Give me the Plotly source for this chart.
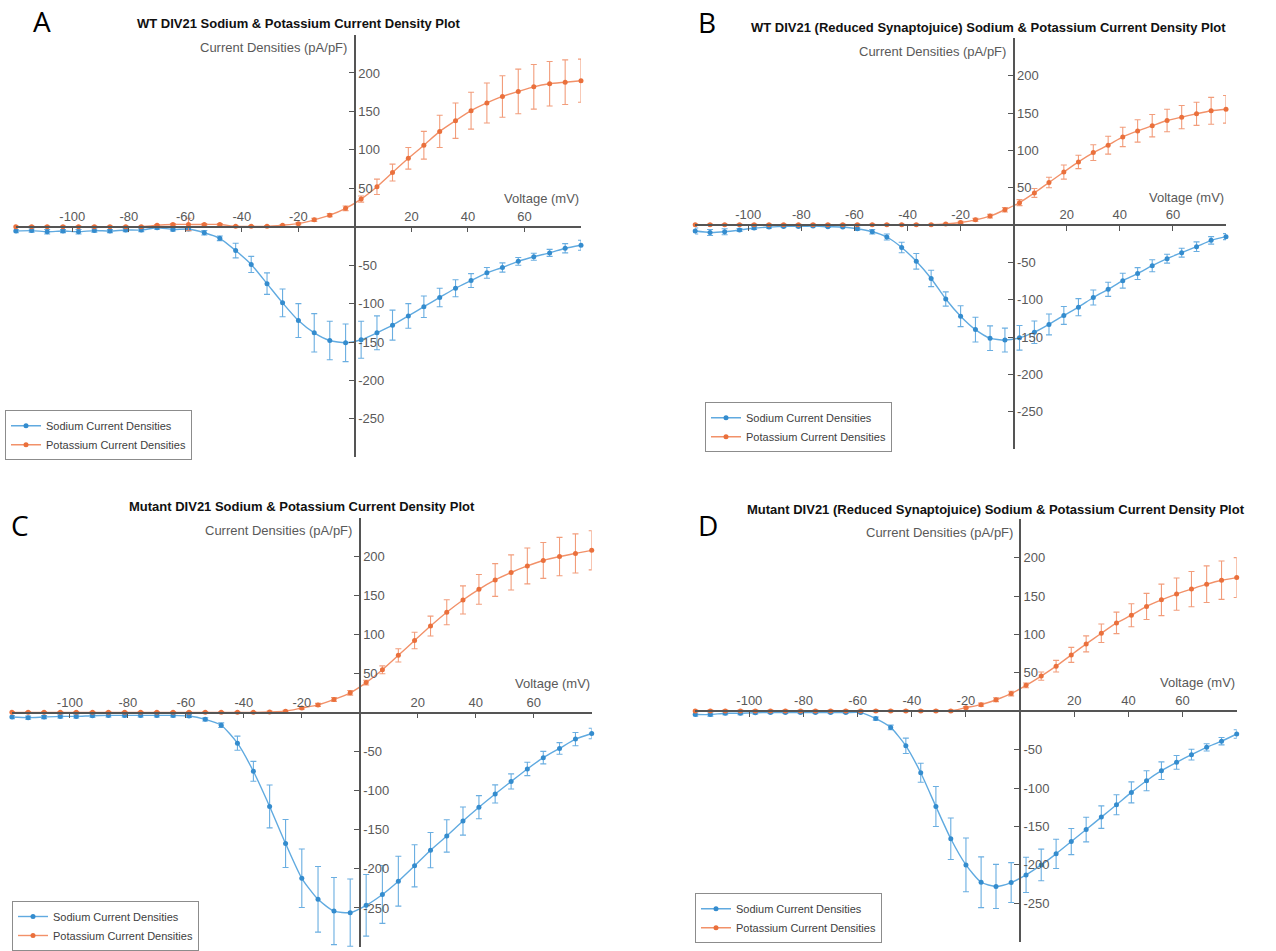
import plotly.graph_objects as go

# Membrane voltage steps (mV) shared by all four recordings
VOLTAGE = [-120.0, -114.4, -108.9, -103.3, -97.8, -92.2, -86.7, -81.1, -75.6, -70.0,
           -64.4, -58.9, -53.3, -47.8, -42.2, -36.7, -31.1, -25.6, -20.0, -14.4,
           -8.9, -3.3, 2.2, 7.8, 13.3, 18.9, 24.4, 30.0, 35.6, 41.1,
           46.7, 52.2, 57.8, 63.3, 68.9, 74.4, 80.0]

# A: WT DIV21
A_NA = [-5.6, -5.0, -6.5, -5.6, -6.5, -5.0, -5.6, -4.3, -4.3, -1.3, -3.5, -3.0, -7.8, -15, -31,
        -49, -74, -99, -122, -138, -148, -151, -147, -138, -128, -116, -104, -92, -80, -70,
        -60, -53, -45, -39, -34, -28, -24]
A_NA_ERR = [2, 2, 3, 2, 3, 2, 2, 2, 2, 2, 2, 2, 3, 3, 9.5, 10.5, 14, 18, 22, 25, 25, 24.5, 24,
            22, 19.5, 16, 14, 12, 11, 9, 7, 6, 5, 4.5, 4.5, 6, 6.5]
A_K = [0, 0, 0, 0, 0, 0, 0, 0, 0, 2, 3, 3, 3, 3, 0.5, 0.5, 0.5, 2, 4, 9, 15, 24, 36, 52, 70.5,
       89, 106, 124, 138, 151, 161, 169.5, 176, 182, 186, 188, 190]
A_K_ERR = [1, 1, 1, 1, 1, 1, 1, 1, 1, 1, 1, 8, 1, 1, 1, 1, 1, 1, 1.5, 2, 2, 3, 4, 10, 11, 14, 18,
           21, 23, 24, 26, 27, 29, 29, 29, 29, 28]

# B: WT DIV21 (Reduced Synaptojuice)
B_NA = [-8, -10, -9, -6.7, -4, -2.7, -1.8, -1.8, -1.3, -2.2, -2.7, -5, -9, -16, -30, -48.5,
        -71.5, -99, -122, -140, -151.5, -154, -151, -143.5, -133, -121, -110, -97, -86, -74.5,
        -65, -54.5, -45, -37, -29, -20.5, -15.5]
B_NA_ERR = [4, 4, 4, 2, 2, 1.5, 1, 1, 1, 1, 1, 2, 3, 4, 7, 10.5, 11, 9.5, 14, 16.5, 16.5, 16,
            16.5, 15, 14, 12, 11.5, 10, 9.5, 10, 8, 8, 6, 6, 6.5, 5, 4]
B_K = [0.5, 0.5, 0.5, 0.5, 0.5, 0.5, 0.5, 0.5, 0.5, 0.5, 0.5, 0.5, 0.5, 0.5, 0.5, 0.5, 0.5, 1.5,
       3.5, 7, 12, 20.5, 30, 43, 57, 71, 84.5, 97, 107, 118, 126, 133, 140, 144.5, 149, 153, 155]
B_K_ERR = [1, 1, 1, 1, 1, 1, 1, 1, 1, 1, 1, 1, 1, 1, 1, 1, 1, 1, 1.5, 2, 2.5, 3, 4, 6, 7, 9.5, 9,
           10.5, 12, 13, 15, 15, 15, 15.5, 15.5, 18, 18.5]

# C: Mutant DIV21
C_NA = [-5.5, -6.3, -5.5, -4.7, -4.7, -3.8, -3.4, -3.4, -3.4, -3.4, -3.4, -4.2, -8.5, -16, -39,
        -75, -120, -167.5, -212, -239, -254, -256, -246.6, -232.7, -215.7, -196, -176, -157.8,
        -138.7, -121, -104, -88, -72, -57.5, -45.7, -33.8, -26.6]
C_NA_ERR = [2, 2, 2, 2, 2, 2, 2, 2, 2, 2, 2, 2, 2, 3, 9, 12.7, 27.5, 30.7, 37.5, 42, 43, 43,
            39.5, 37, 32, 27, 22.6, 20.7, 18, 14.8, 11.6, 9.7, 8.5, 8, 7.4, 8.5, 6.8]
C_K = [0.5, 0.5, 0.5, 0.5, 0.5, 0.5, 0.5, 0.5, 0.5, 0.5, 0.5, 0.5, 0.5, 0.5, 0.5, 0.5, 1, 2, 6,
       10, 17, 25.5, 38.6, 55, 73.5, 92.5, 111, 128.7, 144.4, 158, 170, 179.6, 188, 195, 200,
       204, 208]
C_K_ERR = [1, 1, 1, 1, 1, 1, 1, 1, 1, 1, 1, 1, 1, 1, 1, 1, 1, 1, 1.5, 2, 2.5, 3, 3, 5, 8.5, 10.5,
           12.7, 16, 18, 19, 21, 22.5, 23, 23, 24.5, 25, 25]

# D: Mutant DIV21 (Reduced Synaptojuice)
D_NA = [-4.3, -4.3, -2.6, -2.6, -2, -1.7, -1.7, -1.7, -1.7, -1.7, -1.7, -1.7, -9.5, -21, -45,
        -80, -124, -166, -200, -222.6, -228, -223, -213, -200, -185.6, -169.6, -154, -137.8,
        -121.7, -105.6, -90.4, -77.4, -66.5, -56.5, -47, -39, -29.6]
D_NA_ERR = [2, 2, 2, 2, 1.5, 1, 1, 1, 1, 1, 1, 1, 2, 3, 10, 12.4, 26, 27, 35, 33, 28.7, 26, 23,
            20.6, 19, 17, 16, 14.6, 13, 13.7, 13, 11.5, 9, 7, 4.8, 4.8, 5.6]
D_K = [0.5, 0.5, 0.5, 0.5, 0.5, 0.5, 0.5, 0.5, 0.5, 0.5, 0.5, 0.5, 0.5, 0.5, 0.5, 0.5, 0.5, 0.5,
       4.7, 8.6, 15, 23, 33.7, 45.8, 58.7, 73.4, 87.7, 101.5, 115, 125, 136.5, 145, 152.5, 159,
       165.4, 170.6, 174]
D_K_ERR = [1, 1, 1, 1, 1, 1, 1, 1, 1, 1, 1, 1, 1, 1, 1, 1, 1, 1, 1.5, 2, 2.5, 3, 3, 5.4, 7.5,
           9.7, 10.4, 12, 14, 15, 17, 20.5, 21, 23, 23.8, 25, 26]

TITLES = [
    "WT DIV21 Sodium & Potassium Current Density Plot",
    "WT DIV21 (Reduced Synaptojuice) Sodium & Potassium Current Density Plot",
    "Mutant DIV21 Sodium & Potassium Current Density Plot",
    "Mutant DIV21 (Reduced Synaptojuice) Sodium & Potassium Current Density Plot",
]
LETTERS = ["A", "B", "C", "D"]
SERIES_NAMES = ["Sodium Current Densities", "Potassium Current Densities"]

X_TICKS = [-100, -80, -60, -40, -20, 0, 20, 40, 60, 80]
X_TICKTEXT = ["-100", "-80", "-60", "-40", "-20", "", "20", "40", "60", ""]
Y_TICKS = [-300, -250, -200, -150, -100, -50, 0, 50, 100, 150, 200]
Y_TICKTEXT = ["", "-250", "-200", "-150", "-100", "-50", "", "50", "100", "150", "200"]

W, H = 1276, 951
X_RANGE = [-120, 80]
Y_RANGE = [-300, 250]

# plot boxes in pixels: left, right, top, bottom
BOXES = [
    (15.8, 581.0, 34.7, 459.3),
    (695.2, 1226.0, 38.5, 451.0),
    (11.9, 591.7, 519.7, 951.0),
    (695.2, 1236.7, 521.4, 945.7),
]
TITLE_POS = [(299, 24), (988, 28), (302, 509), (996, 512)]
LETTER_POS = [(42, 21), (707, 22), (20, 527), (708, 527)]
LEGEND_POS = [(5, 412), (705, 404), (12, 905), (695, 897)]

BLUE_LINE = "rgb(96,170,224)"
BLUE_MARK = "rgb(52,140,206)"
BLUE_ERR = "rgba(80,160,220,0.85)"
ORANGE_LINE = "rgb(242,145,105)"
ORANGE_MARK = "rgb(234,112,60)"
ORANGE_ERR = "rgba(240,140,100,0.85)"

AXIS_COLOR = "#555555"
TICK_FONT = dict(family="Liberation Sans, Arial, sans-serif", size=13, color="#595959")

panels = [
    (A_NA, A_NA_ERR, A_K, A_K_ERR),
    (B_NA, B_NA_ERR, B_K, B_K_ERR),
    (C_NA, C_NA_ERR, C_K, C_K_ERR),
    (D_NA, D_NA_ERR, D_K, D_K_ERR),
]

fig = go.Figure()
annotations = []
layout = {}

for i, (na, na_err, k, k_err) in enumerate(panels):
    n = i + 1
    sfx = "" if n == 1 else str(n)
    xa, ya = f"x{sfx}", f"y{sfx}"
    leg = "legend" if n == 1 else f"legend{n}"

    left, right, top, bottom = BOXES[i]
    xdom = [left / W, right / W]
    ydom = [max(0.0, 1 - bottom / H), 1 - top / H]

    # axes cross at the origin
    x_zero = xdom[0] + (0 - X_RANGE[0]) / (X_RANGE[1] - X_RANGE[0]) * (xdom[1] - xdom[0])
    y_zero = ydom[0] + (0 - Y_RANGE[0]) / (Y_RANGE[1] - Y_RANGE[0]) * (ydom[1] - ydom[0])

    layout[f"xaxis{sfx}"] = dict(
        domain=xdom, range=X_RANGE, anchor="free", position=y_zero, side="top",
        showline=True, linecolor=AXIS_COLOR, linewidth=1.5, showgrid=False, zeroline=False,
        ticks="inside", ticklen=5, tickwidth=1.2, tickcolor=AXIS_COLOR,
        tickvals=X_TICKS, ticktext=X_TICKTEXT, tickfont=TICK_FONT, fixedrange=True,
    )
    layout[f"yaxis{sfx}"] = dict(
        domain=ydom, range=Y_RANGE, anchor="free", position=x_zero, side="right",
        showline=True, linecolor=AXIS_COLOR, linewidth=1.5, showgrid=False, zeroline=False,
        ticks="inside", ticklen=5, tickwidth=1.2, tickcolor=AXIS_COLOR,
        tickvals=Y_TICKS, ticktext=Y_TICKTEXT, tickfont=TICK_FONT, fixedrange=True,
    )

    fig.add_trace(go.Scatter(
        x=VOLTAGE, y=na, name=SERIES_NAMES[0], xaxis=xa, yaxis=ya, legend=leg,
        mode="lines+markers", cliponaxis=False,
        line=dict(color=BLUE_LINE, width=1.4, shape="spline", smoothing=0.6),
        marker=dict(size=5, color=BLUE_MARK),
        error_y=dict(type="data", array=na_err, color=BLUE_ERR, thickness=1.1, width=3),
    ))
    fig.add_trace(go.Scatter(
        x=VOLTAGE, y=k, name=SERIES_NAMES[1], xaxis=xa, yaxis=ya, legend=leg,
        mode="lines+markers", cliponaxis=False,
        line=dict(color=ORANGE_LINE, width=1.4, shape="spline", smoothing=0.6),
        marker=dict(size=5, color=ORANGE_MARK),
        error_y=dict(type="data", array=k_err, color=ORANGE_ERR, thickness=1.1, width=3),
    ))

    lx, ly = LEGEND_POS[i]
    layout[leg] = dict(
        x=lx / W, y=1 - ly / H, xanchor="left", yanchor="top",
        bgcolor="white", bordercolor="#8c8c8c", borderwidth=1,
        font=dict(family="Liberation Sans, Arial, sans-serif", size=11, color="#404040"),
        tracegroupgap=0, itemwidth=30,
    )

    # axis titles
    annotations.append(dict(
        x=-2, y=233, xref=xa, yref=ya, text="Current Densities (pA/pF)", showarrow=False,
        xanchor="right", yanchor="middle", font=TICK_FONT,
    ))
    annotations.append(dict(
        x=X_RANGE[1], y=37, xref=xa, yref=ya, text="Voltage (mV)", showarrow=False,
        xanchor="right", yanchor="middle", font=TICK_FONT,
    ))

    tx, ty = TITLE_POS[i]
    annotations.append(dict(
        x=tx / W, y=1 - ty / H, xref="paper", yref="paper", text=f"<b>{TITLES[i]}</b>",
        showarrow=False, xanchor="center", yanchor="middle",
        font=dict(family="Liberation Sans, Arial, sans-serif", size=13, color="#111111"),
    ))
    px_, py_ = LETTER_POS[i]
    annotations.append(dict(
        x=px_ / W, y=1 - py_ / H, xref="paper", yref="paper", text=LETTERS[i],
        showarrow=False, xanchor="center", yanchor="middle",
        font=dict(family="Open Sans, sans-serif", size=28, color="#000000"),
    ))

fig.update_layout(
    width=W, height=H, margin=dict(l=0, r=0, t=0, b=0),
    paper_bgcolor="white", plot_bgcolor="white",
    annotations=annotations, showlegend=True,
    **layout,
)

fig.write_html("out.html", config={"displayModeBar": False})
